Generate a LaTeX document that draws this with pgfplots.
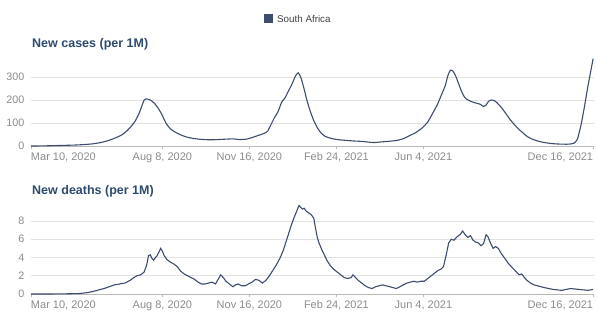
\documentclass[border=0pt]{standalone}
\usepackage{pgfplots}
\pgfplotsset{compat=1.18}
\usepackage{fontspec}
\setmainfont{Liberation Sans}
\definecolor{linecol}{HTML}{3C4D6E}
\definecolor{titlecol}{HTML}{2E4A70}
\definecolor{tickcol}{HTML}{8C8C8C}
\definecolor{gridcol}{HTML}{E2E2E2}
\pgfplotsset{
  covstyle/.style={
    scale only axis,
    anchor=south west,
    xmin=0, xmax=647,
    axis x line*=bottom,
    axis y line*=left,
    y axis line style={draw=none},
    x axis line style={draw=gray!55, line width=0.6pt},
    ytick style={draw=none},
    xtick style={draw=gray!55, line width=0.6pt},
    tick align=outside,
    major tick length=3pt,
    ymajorgrids,
    grid style={gridcol, line width=0.6pt},
    xtick={0,151,251,351,451,646},
    xticklabels={{\makebox[0pt][l]{Mar 10, 2020}},{Aug 8, 2020},{Nov 16, 2020},{Feb 24, 2021},{Jun 4, 2021},{\makebox[0pt][r]{Dec 16, 2021}}},
    /pgf/number format/assume math mode=true,
    xticklabel style={font=\fontsize{11}{12}\selectfont, text=tickcol, yshift=0pt},
    yticklabel style={font=\fontsize{10.8}{12}\selectfont, text=tickcol},
    clip=false,
  }
}
\begin{document}
\begin{tikzpicture}[x=1pt,y=1pt]
\useasboundingbox (0,0) rectangle (597,314);
% legend
\fill[linecol] (263.5,291) rectangle (272.5,300);
\node[anchor=west, inner sep=0pt, font=\fontsize{9.8}{11}\selectfont, text=black!75] at (277,295.5) {South Africa};
% titles
\node[anchor=west, inner sep=0pt, font=\bfseries\fontsize{12.5}{14}\selectfont, text=titlecol] at (32,270) {New cases (per 1M)};
\node[anchor=west, inner sep=0pt, font=\bfseries\fontsize{12.5}{14}\selectfont, text=titlecol] at (32,123) {New deaths (per 1M)};
% top axis
\begin{axis}[covstyle, at={(31pt,168pt)}, width=563pt, height=89.7pt,
  ymin=0, ymax=390, ytick={0,100,200,300}]
\addplot[linecol, line width=1.1pt, smooth, tension=0.3] coordinates {
(0,0.1) (10,0.3) (20,1) (30,2) (40,3) (50,4) (60,6) (70,9) (80,15) (90,25) (100,40) (105,50) (110,65) (115,85) (120,110) (124,140) (127,170) (130,200) (132,205) (135,203) (138,198) (142,185) (146,165) (150,140) (155,100) (160,75) (165,62) (171,50) (178,40) (186,33) (195,29) (205,27) (215,28) (225,30) (232,31) (240,28) (248,30) (255,38) (262,47) (268,55) (272,65) (276,95) (280,125) (284,150) (288,190) (292,210) (296,240) (300,270) (304,305) (307,318) (310,300) (313,260) (317,200) (321,150) (325,110) (329,80) (333,58) (338,42) (345,33) (352,28) (360,25) (370,22) (380,20) (390,16) (395,15) (400,17) (410,20) (420,24) (428,32) (435,45) (442,58) (450,80) (456,105) (462,145) (467,180) (472,225) (476,262) (479,305) (482,330) (485,325) (488,305) (491,275) (494,245) (497,220) (500,205) (505,195) (510,188) (516,182) (520,172) (523,178) (526,195) (529,200) (532,198) (535,190) (540,170) (545,145) (550,118) (555,95) (560,75) (565,58) (570,42) (576,30) (582,22) (590,15) (600,10) (610,8) (618,8) (624,12) (628,30) (632,90) (636,170) (640,260) (643,320) (646,380)
};
\end{axis}
% bottom axis
\begin{axis}[covstyle, at={(31pt,20pt)}, width=563pt, height=91.25pt,
  ymin=0, ymax=10, ytick={0,2,4,6,8}]
\addplot[linecol, line width=1.1pt] coordinates {
(0,0) (20,0) (40,0.02) (55,0.05) (65,0.15) (72,0.3) (78,0.45) (84,0.6) (90,0.8) (96,1.0) (102,1.1) (108,1.2) (114,1.5) (118,1.8) (122,2.0) (126,2.1) (130,2.4) (133,3.2) (135,4.2) (137,4.3) (139,3.9) (141,3.7) (143,4.0) (145,4.2) (147,4.6) (149,5.0) (151,4.7) (153,4.2) (156,3.8) (160,3.5) (164,3.3) (168,3.0) (172,2.5) (176,2.2) (180,2.0) (184,1.8) (188,1.6) (192,1.3) (196,1.1) (200,1.1) (204,1.2) (208,1.3) (212,1.1) (215,1.6) (218,2.1) (221,1.8) (224,1.4) (228,1.1) (232,0.8) (235,1.0) (238,1.1) (242,0.9) (246,0.9) (250,1.1) (254,1.3) (258,1.6) (262,1.5) (266,1.2) (270,1.5) (274,2.0) (278,2.6) (282,3.2) (286,3.9) (290,4.8) (293,5.7) (296,6.6) (299,7.5) (302,8.3) (305,9.0) (308,9.7) (310,9.5) (312,9.3) (314,9.4) (316,9.1) (319,8.9) (322,8.7) (325,8.3) (327,7.2) (329,6.2) (331,5.6) (334,4.9) (337,4.3) (340,3.7) (344,3.1) (348,2.7) (352,2.4) (356,2.1) (360,1.8) (364,1.7) (368,1.8) (370,2.1) (373,1.8) (376,1.5) (380,1.2) (384,0.9) (388,0.7) (392,0.6) (396,0.8) (400,0.9) (404,1.0) (408,0.9) (412,0.8) (416,0.7) (420,0.6) (424,0.8) (428,1.0) (432,1.2) (436,1.3) (440,1.4) (444,1.3) (448,1.4) (452,1.4) (456,1.7) (460,2.0) (464,2.3) (468,2.6) (471,2.7) (474,3.0) (477,4.2) (480,5.6) (483,6.0) (486,5.9) (488,6.1) (490,6.3) (493,6.5) (496,6.9) (499,6.5) (502,6.2) (505,6.4) (508,5.9) (511,5.7) (514,5.6) (517,5.3) (520,5.5) (523,6.5) (525,6.3) (528,5.6) (531,5.0) (534,5.2) (537,5.0) (540,4.5) (543,4.1) (546,3.7) (549,3.3) (552,3.0) (555,2.7) (558,2.4) (561,2.1) (564,2.2) (567,1.8) (570,1.5) (574,1.2) (578,1.0) (582,0.9) (586,0.8) (590,0.7) (595,0.6) (600,0.5) (605,0.45) (610,0.4) (615,0.5) (620,0.6) (625,0.55) (630,0.5) (635,0.45) (640,0.4) (646,0.5)
};
\end{axis}
\end{tikzpicture}
\end{document}
